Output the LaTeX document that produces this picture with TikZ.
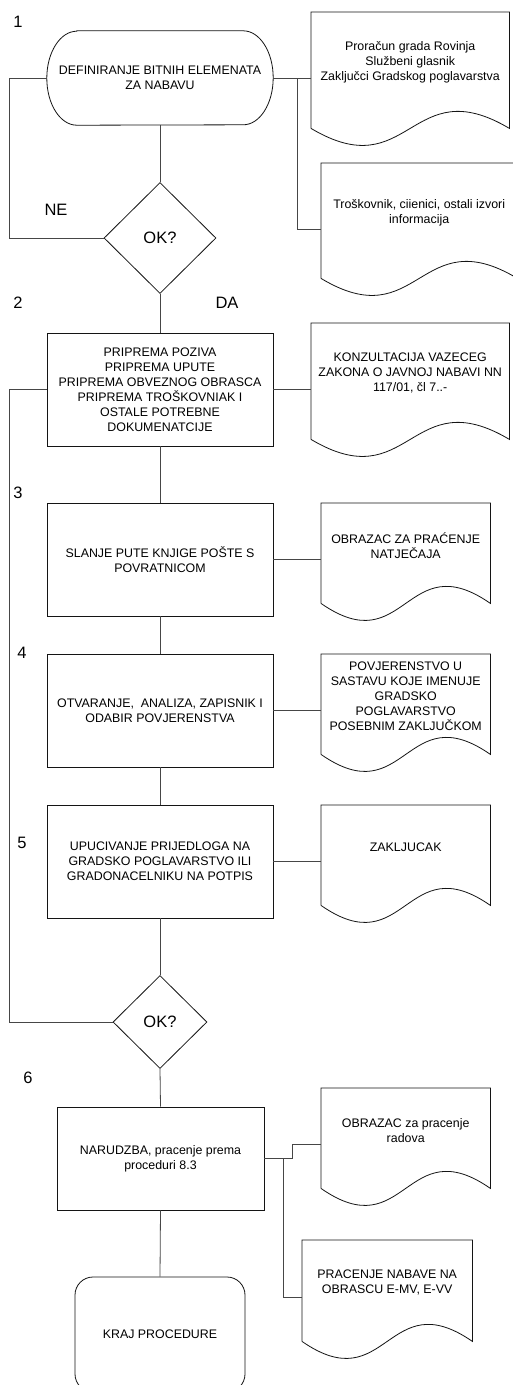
\documentclass[tikz,border=0pt]{standalone}
\usepackage{fontspec}
\setmainfont{Liberation Sans}
\usetikzlibrary{shapes.geometric,calc}
\definecolor{ink}{RGB}{20,20,20}
\definecolor{wire}{RGB}{70,70,70}
% document symbol: straight top and sides, wavy bottom below the node
\newcommand{\docoutline}[1]{\draw[shp] ([yshift=-16pt]#1.south west) -- (#1.north west) -- (#1.north east) -- ([yshift=-16pt]#1.south east) .. controls ($(#1.south)+(0,43)$) and ($(#1.south)+(0,-75)$) .. ([yshift=-16pt]#1.south west);}

\begin{document}
\begin{tikzpicture}[x=1pt,y=1pt,font=\fontsize{12.4}{15}\selectfont]
\tikzset{shp/.style={draw=ink,line width=0.8pt},
  box/.style={shp,rectangle,align=center,inner sep=2pt,minimum width=226pt,minimum height=113pt},
  decide/.style={shp,diamond,inner sep=0pt,font=\fontsize{16.5}{19}\selectfont},
  doc/.style={rectangle,anchor=north west,align=center,inner sep=0pt,minimum width=169pt,minimum height=84pt},
  term/.style={rectangle,align=center,inner sep=0pt},
  lbl/.style={font=\fontsize{16.5}{19}\selectfont,inner sep=0pt},
  wire/.style={draw=wire,line width=0.8pt}}
\useasboundingbox[fill=white] (0,0) rectangle (513,-1385);
% main column
\node[term,minimum width=226pt,minimum height=94pt] (t1) at (160,-78) {DEFINIRANJE BITNIH ELEMENATA\\ZA NABAVU};
\node[decide,minimum width=112pt,minimum height=111pt] (d1) at (160,-238) {OK?};
\node[box] (b2) at (160,-389.5) {PRIPREMA POZIVA\\PRIPREMA UPUTE\\PRIPREMA OBVEZNOG OBRASCA\\PRIPREMA TROŠKOVNIAK I\\OSTALE POTREBNE\\DOKUMENATCIJE};
\node[box] (b3) at (160,-559.5) {SLANJE PUTE KNJIGE POŠTE S\\POVRATNICOM};
\node[box] (b4) at (160,-710.5) {OTVARANJE, \ ANALIZA, ZAPISNIK I\\ODABIR POVJERENSTVA};
\node[box] (b5) at (160,-861.5) {UPUCIVANJE PRIJEDLOGA NA\\GRADSKO POGLAVARSTVO ILI\\GRADONACELNIKU NA POTPIS};
\node[decide,minimum width=94pt,minimum height=93pt] (d2) at (160,-1022) {OK?};
\node[box,minimum width=207pt,minimum height=103pt] (b6) at (160.5,-1158.5) {NARUDZBA, pracenje prema\\proceduri 8.3};
\node[term,shp,rounded corners=18pt,minimum width=170pt,minimum height=115pt] (t2) at (160,-1334.5) {KRAJ PROCEDURE};
% step numbers and answers
\node[lbl] (n1) at (18,-22) {1};
\node[lbl] (n2) at (18,-303) {2};
\node[lbl] (n3) at (18,-493) {3};
\node[lbl] (n4) at (22,-653) {4};
\node[lbl] (n5) at (22,-843) {5};
\node[lbl] (n6) at (28,-1078) {6};
\node[lbl] (ne) at (56,-210) {NE};
\node[lbl] (da) at (227,-303) {DA};
% documents
\node[doc,minimum width=198pt,minimum height=100pt] (doc1) at (311,-12) {Proračun grada Rovinja\\Službeni glasnik\\Zaključci Gradskog poglavarstva};
\node[doc,minimum width=196pt,minimum height=99pt] (doc2) at (321,-163) {Troškovnik, ciienici, ostali izvori\\informacija};
\node[doc,minimum width=198pt,minimum height=100pt] (doc3) at (311,-323) {KONZULTACIJA VAZECEG\\ZAKONA O JAVNOJ NABAVI NN\\117/01, čl 7..-};
\node[doc] (doc4) at (321,-503) {OBRAZAC ZA PRAĆENJE\\NATJEČAJA};
\node[doc] (doc5) at (321,-654) {POVJERENSTVO U\\SASTAVU KOJE IMENUJE\\GRADSKO\\POGLAVARSTVO\\POSEBNIM ZAKLJUČKOM};
\node[doc] (doc6) at (321,-805) {ZAKLJUCAK};
\node[doc] (doc7) at (321,-1088) {OBRAZAC za pracenje\\radova};
\node[doc,minimum width=170pt,minimum height=85pt] (doc8) at (302,-1240) {PRACENJE NABAVE NA\\OBRASCU E-MV, E-VV};
\foreach \i in {1,...,8} \docoutline{doc\i};
% start terminal with elliptic ends
\draw[shp] ([xshift=30pt]t1.north west) -- ([xshift=-30pt]t1.north east) arc[start angle=90,end angle=-90,x radius=30pt,y radius=47pt] -- ([xshift=30pt]t1.south west) arc[start angle=270,end angle=90,x radius=30pt,y radius=47pt] -- cycle;
% junctions
\coordinate (lft) at (9,0);
\coordinate (j1) at (297,-78);
\coordinate (j2) at (292,-1158.5);
\coordinate (j3) at (283,-1158.5);
% connectors
\draw[wire] (t1.south)--(d1.north); \draw[wire] (t1.west)--(t1.west-|lft)|-(d1.west);
\draw[wire] (t1.east)--(t1.east-|doc1.west); \draw[wire] (j1)|-([yshift=-16.5pt]doc2.west);
\draw[wire] (d1.south)--(b2.north); \draw[wire] (b2.east)--(b2.east-|doc3.west); \draw[wire] (b2.west)--(b2.west-|lft)|-(d2.west);
\draw[wire] (b2.south)--(b3.north); \draw[wire] (b3.east)--(b3.east-|doc4.west);
\draw[wire] (b3.south)--(b4.north); \draw[wire] (b4.east)--(b4.east-|doc5.west);
\draw[wire] (b4.south)--(b5.north); \draw[wire] (b5.east)--(b5.east-|doc6.west);
\draw[wire] (b5.south)--(d2.north); \draw[wire] (d2.south)--(b6.north);
\draw[wire] (b6.east)--(j2)|-([yshift=-14pt]doc7.west); \draw[wire] (j3)|-([yshift=-14.5pt]doc8.west);
\draw[wire] (b6.south)--(t2.north);
\end{tikzpicture}
\end{document}
